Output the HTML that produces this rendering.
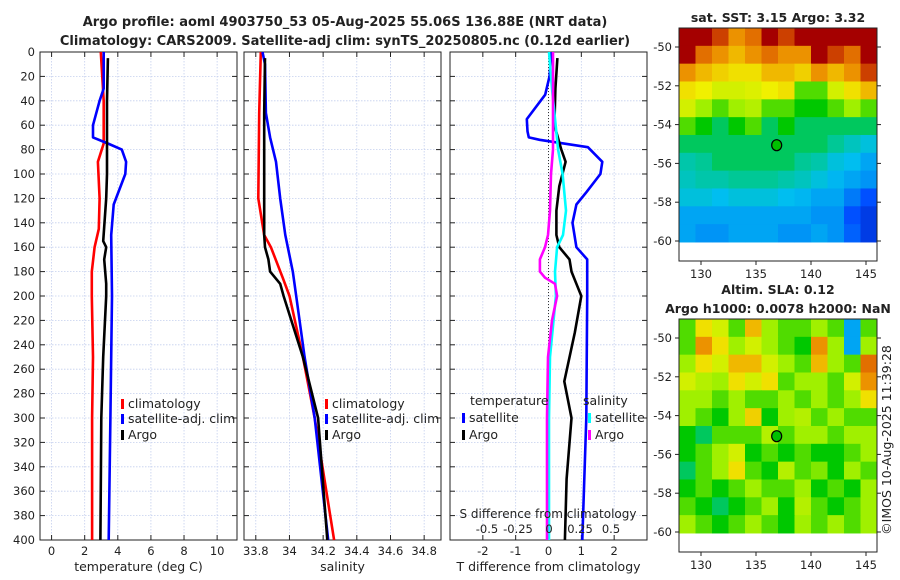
<!DOCTYPE html>
<html><head><meta charset="utf-8"><style>
body{margin:0;background:#fff;width:900px;height:580px;overflow:hidden}
svg{display:block;font-family:"DejaVu Sans","Liberation Sans",sans-serif}
text{fill:#222}
</style></head><body>
<svg id="c" width="900" height="580" viewBox="0 0 900 580">
<text x="345" y="26" text-anchor="middle" font-size="13" font-weight="bold">Argo profile: aoml 4903750_53 05-Aug-2025 55.06S 136.88E (NRT data)</text>
<text x="345" y="45" text-anchor="middle" font-size="13" font-weight="bold">Climatology: CARS2009. Satellite-adj clim: synTS_20250805.nc (0.12d earlier)</text>
<text x="778" y="22" text-anchor="middle" font-size="12.5" font-weight="bold">sat. SST: 3.15 Argo: 3.32</text>
<text x="778" y="294" text-anchor="middle" font-size="12.5" font-weight="bold">Altim. SLA: 0.12</text>
<text x="778" y="313" text-anchor="middle" font-size="12.5" font-weight="bold">Argo h1000: 0.0078 h2000: NaN</text>
<text transform="translate(891,440) rotate(-90)" text-anchor="middle" font-size="12.5">©IMOS 10-Aug-2025 11:39:28</text>
<g id="g"></g>
</svg>
<script>
// ---- data ----
const depthTicks=[0,20,40,60,80,100,120,140,160,180,200,220,240,260,280,300,320,340,360,380,400];
const tTicks=[0,2,4,6,8,10];
const sTicks=[33.8,34,34.2,34.4,34.6,34.8];
const dTicks=[-2,-1,0,1,2];
const dTickLabels=["-2","-1","0","1","2"];
const sDiffTickLabels=["-0.5","-0.25","0","0.25","0.5"];
const sDiffTicks=[-0.5,-0.25,0,0.25,0.5];
// temperature profiles
const climTdep=[0,40,75,90,120,145,160,180,200,250,300,400];
const climT=[2.97,3.15,3.15,2.8,2.9,2.85,2.6,2.43,2.43,2.5,2.45,2.45];
const satTdep=[0,30,40,60,70,75,80,90,100,125,150,200,300,400];
const satT=[3.15,3.15,2.9,2.5,2.5,3.4,4.24,4.5,4.45,3.75,3.6,3.65,3.55,3.45];
const argoTdep=[5,40,100,120,155,160,170,190,200,250,300,400];
const argoT=[3.4,3.35,3.35,3.3,3.12,3.3,3.18,3.3,3.3,3.12,3.0,2.95];
// salinity profiles
const climSdep=[0,50,120,150,160,185,200,250,300,400];
const climS=[33.83,33.82,33.815,33.85,33.89,33.96,34.0,34.08,34.15,34.265];
const satSdep=[0,10,50,70,90,120,150,180,200,250,300,400];
const satS=[33.84,33.855,33.86,33.885,33.92,33.945,33.975,34.02,34.04,34.09,34.15,34.23];
const argoSdep=[5,50,100,150,160,170,180,190,200,250,300,400];
const argoS=[33.855,33.85,33.85,33.85,33.855,33.875,33.885,33.945,33.965,34.08,34.17,34.225];
// differences
const satDTdep=[0,20,35,55,65,70,72,78,90,100,115,125,140,160,170,200,300,400];
const satDT=[0.09,0.03,-0.1,-0.66,-0.64,-0.6,-0.27,1.2,1.64,1.58,1.15,0.85,0.73,0.85,1.18,1.18,1.15,1.03];
const argoDTdep=[5,30,60,80,90,110,130,150,160,170,180,190,200,230,270,300,350,400];
const argoDT=[0.27,0.21,0.18,0.39,0.52,0.33,0.24,0.24,0.33,0.64,0.7,0.85,1.0,0.8,0.48,0.7,0.55,0.5];
const satDSdep=[0,30,80,100,130,150,160,180,200,250,300,400];
const satDS=[0.0,0.024,0.073,0.11,0.137,0.113,0.065,0.048,0.056,0.008,0.0,0.0];
const argoDSdep=[0,50,80,100,130,150,160,170,180,185,190,200,220,250,300,400];
const argoDS=[0.032,0.032,0.032,0.016,0.008,-0.008,-0.032,-0.073,-0.073,-0.032,0.048,0.065,0.024,-0.008,-0.016,-0.016];
// maps (rows north->south, cols west->east; 0=cold/low .. 1=warm/high)
const sstGrid=[
[.95,.95,.9,.8,.85,.95,.9,.95,.95,.95,.95,.95],
[.95,.85,.8,.75,.8,.85,.8,.8,.95,.9,.85,.95],
[.8,.75,.72,.7,.7,.75,.75,.72,.8,.75,.8,.9],
[.7,.68,.65,.65,.66,.68,.7,.55,.55,.65,.7,.75],
[.65,.6,.55,.6,.62,.55,.55,.5,.5,.55,.6,.55],
[.55,.5,.45,.5,.55,.45,.5,.45,.45,.45,.45,.45],
[.45,.45,.45,.45,.45,.45,.45,.45,.45,.42,.38,.35],
[.4,.42,.45,.45,.45,.45,.45,.42,.4,.35,.33,.3],
[.38,.4,.4,.42,.42,.42,.4,.38,.35,.32,.3,.28],
[.35,.35,.33,.35,.35,.35,.33,.32,.3,.3,.25,.2],
[.3,.3,.3,.3,.3,.3,.3,.3,.28,.28,.2,.15],
[.3,.28,.28,.3,.3,.3,.28,.28,.3,.28,.22,.15]];
const slaGrid=[
[.55,.7,.65,.55,.75,.6,.55,.55,.6,.55,.3,.55],
[.55,.8,.7,.6,.65,.6,.55,.5,.8,.6,.3,.6],
[.6,.7,.65,.75,.75,.65,.6,.55,.75,.6,.55,.85],
[.65,.62,.6,.7,.65,.7,.55,.6,.6,.55,.65,.8],
[.6,.6,.55,.6,.55,.55,.6,.55,.6,.55,.6,.7],
[.6,.55,.5,.6,.72,.5,.6,.62,.55,.6,.55,.55],
[.5,.45,.55,.55,.55,.62,.55,.6,.6,.55,.6,.6],
[.5,.55,.6,.65,.5,.55,.5,.55,.5,.5,.55,.6],
[.45,.55,.6,.7,.55,.5,.62,.55,.58,.5,.6,.55],
[.5,.55,.5,.55,.6,.55,.55,.6,.5,.55,.5,.6],
[.55,.5,.45,.5,.55,.6,.5,.62,.55,.5,.55,.6],
[.6,.55,.5,.55,.6,.55,.5,.6,.55,.6,.55,.6]];
const lonTicks=[130,135,140,145];
const latTicks=[-50,-52,-54,-56,-58,-60];
const argoLon=136.88, argoLat=-55.06;

// ---- drawing ----
const NS='http://www.w3.org/2000/svg', G=document.getElementById('g');
function el(t,a,p){const e=document.createElementNS(NS,t);for(const k in a)e.setAttribute(k,a[k]);(p||G).appendChild(e);return e;}
const Y0=52,Y1=540;
const yD=d=>Y0+(d/400)*(Y1-Y0);
function lin(d0,d1,r0,r1){return v=>r0+(v-d0)/(d1-d0)*(r1-r0);}
const panels=[
 {x0:40,x1:237,sc:lin(-0.7,11.2,40,237),ticks:tTicks,labels:tTicks.map(String),xl:"temperature (deg C)",name:'temperature'},
 {x0:244,x1:441,sc:lin(33.73,34.9,244,441),ticks:sTicks,labels:sTicks.map(v=>String(v)),xl:"salinity",name:'salinity'},
 {x0:450,x1:647,sc:lin(-3,3,450,647),ticks:dTicks,labels:dTickLabels,xl:"T difference from climatology",name:'difference'}];
panels.forEach((p,i)=>{
 const pg=el('g',{});
 
 
 depthTicks.forEach(d=>{el('line',{x1:p.x0,x2:p.x1,y1:yD(d),y2:yD(d),stroke:'#c4cfee','stroke-width':0.8,'stroke-dasharray':'1.5,1.5'},pg);
  el('line',{x1:p.x0,x2:p.x0+5,y1:yD(d),y2:yD(d),stroke:'#222'},pg);el('line',{x1:p.x1-5,x2:p.x1,y1:yD(d),y2:yD(d),stroke:'#222'},pg);});
 p.ticks.forEach((t,j)=>{const x=p.sc(t);
  el('line',{x1:x,x2:x,y1:Y0,y2:Y1,stroke:'#c4cfee','stroke-width':0.8,'stroke-dasharray':'1.5,1.5'},pg);
  el('line',{x1:x,x2:x,y1:Y1-5,y2:Y1,stroke:'#222'},pg);el('line',{x1:x,x2:x,y1:Y0,y2:Y0+5,stroke:'#222'},pg);
  const tx=el('text',{x:x,y:555,'text-anchor':'middle','font-size':11.5},pg);tx.textContent=p.labels[j];});
 const xl=el('text',{x:(p.x0+p.x1)/2,y:571,'text-anchor':'middle','font-size':12.5},pg);xl.textContent=p.xl;
 
 
 const fr=el('rect',{x:p.x0,y:Y0,width:p.x1-p.x0,height:Y1-Y0,fill:'none',stroke:'#222','stroke-width':1},pg);
 
 
});
depthTicks.forEach(d=>{const t=el('text',{x:35,y:yD(d)+4,'text-anchor':'end','font-size':11.5});t.textContent=d;
 
 });
el('line',{x1:panels[2].sc(0),x2:panels[2].sc(0),y1:Y0,y2:Y1,stroke:'#333','stroke-width':1,'stroke-dasharray':'1,2'});
function series(xs,ds,sc,color,name){const pts=xs.map((v,i)=>sc(v).toFixed(1)+','+yD(ds[i]).toFixed(1)).join(' ');
 const e=el('polyline',{points:pts,fill:'none',stroke:color,'stroke-width':2.6,'stroke-linejoin':'round'});
 
 }
const sT=panels[0].sc,sS=panels[1].sc,sD=panels[2].sc,sDS=lin(0,1,549,673);
series(climT,climTdep,sT,'#ff0000','temp-climatology-line');
series(satT,satTdep,sT,'#0000ff','temp-satellite-line');
series(argoT,argoTdep,sT,'#000','temp-argo-line');
series(climS,climSdep,sS,'#ff0000','sal-climatology-line');
series(satS,satSdep,sS,'#0000ff','sal-satellite-line');
series(argoS,argoSdep,sS,'#000','sal-argo-line');
series(satDT,satDTdep,sD,'#0000ff','tdiff-satellite-line');
series(argoDT,argoDTdep,sD,'#000','tdiff-argo-line');
series(satDS,satDSdep,sDS,'#00ffff','sdiff-satellite-line');
series(argoDS,argoDSdep,sDS,'#ff00ff','sdiff-argo-line');
sDiffTicks.forEach((v,j)=>{const t=el('text',{x:sDS(v),y:533,'text-anchor':'middle','font-size':11.5});t.textContent=sDiffTickLabels[j];
 
 });
{const t=el('text',{x:548,y:518,'text-anchor':'middle','font-size':12});t.textContent='S difference from climatology';
 
 }
function leg(x,y,color,label,name){const g=el('g',{});
 
 
 el('rect',{x:x,y:y-9,width:3,height:10,fill:color},g);
 const t=el('text',{x:x+7,y:y,'font-size':12.5},g);t.textContent=label;}
leg(121,408,'#ff0000','climatology','legend-temp-climatology');
leg(121,423,'#0000ff','satellite-adj. clim','legend-temp-satellite');
leg(121,439,'#000','Argo','legend-temp-argo');
leg(325,408,'#ff0000','climatology','legend-sal-climatology');
leg(325,423,'#0000ff','satellite-adj. clim','legend-sal-satellite');
leg(325,439,'#000','Argo','legend-sal-argo');
{const t=el('text',{x:470,y:405,'font-size':12.5});t.textContent='temperature';
 
 
 const u=el('text',{x:583,y:405,'font-size':12.5});u.textContent='salinity';
 
 }
leg(462,422,'#0000ff','satellite','legend-tdiff-satellite');
leg(462,439,'#000','Argo','legend-tdiff-argo');
leg(588,422,'#00ffff','satellite','legend-sdiff-satellite');
leg(588,439,'#ff00ff','Argo','legend-sdiff-argo');
const stops=[[0,[0,0,150]],[.2,[0,80,255]],[.33,[0,190,240]],[.42,[0,200,150]],[.5,[0,200,0]],[.6,[160,240,0]],[.68,[240,240,0]],[.78,[240,160,0]],[.88,[220,90,0]],[.95,[165,0,0]],[1,[140,0,0]]];
function cmap(v){for(let i=1;i<stops.length;i++){if(v<=stops[i][0]){const a=stops[i-1],b=stops[i],f=(v-a[0])/(b[0]-a[0]);
 return 'rgb('+a[1].map((c,k)=>Math.round(c+(b[1][k]-c)*f)).join(',')+')';}}return 'rgb(140,0,0)';}
function drawMap(grid,top,name){
 const bx0=679,bx1=877,lonS=lin(128,146,679,877);
 const latS=lin(-50,-60,top+19,top+213);
 const g=el('g',{});
 
 
 const rows=grid.length,cols=grid[0].length,imgTop=top,imgBot=latS(-60.05);
 const cw=(bx1-bx0)/cols,ch=(imgBot-imgTop)/rows;
 grid.forEach((r,i)=>r.forEach((v,j)=>{const c=el('rect',{x:bx0+j*cw,y:imgTop+i*ch,width:cw+0.5,height:ch+0.5,fill:cmap(v)},g);
  
  }));
 const bot=top+233;
 el('rect',{x:bx0,y:top,width:bx1-bx0,height:bot-top,fill:'none',stroke:'#222'},g);
 latTicks.forEach(l=>{const y=latS(l);el('line',{x1:bx0-4,x2:bx0,y1:y,y2:y,stroke:'#222'},g);el('line',{x1:bx1,x2:bx1+4,y1:y,y2:y,stroke:'#222'},g);
  const t=el('text',{x:bx0-7,y:y+4,'text-anchor':'end','font-size':11.5},g);t.textContent=l;});
 lonTicks.forEach(l=>{const x=lonS(l);el('line',{x1:x,x2:x,y1:bot,y2:bot+4,stroke:'#222'},g);
  const t=el('text',{x:x,y:bot+17,'text-anchor':'middle','font-size':11.5},g);t.textContent=l;});
 const m=el('ellipse',{cx:lonS(argoLon),cy:latS(argoLat),rx:5,ry:5.5,fill:'#00c000',stroke:'#000','stroke-width':1.2},g);
 
 
}
drawMap(sstGrid,28,'sst-map');
drawMap(slaGrid,319,'sla-map');
</script>
</body></html>
